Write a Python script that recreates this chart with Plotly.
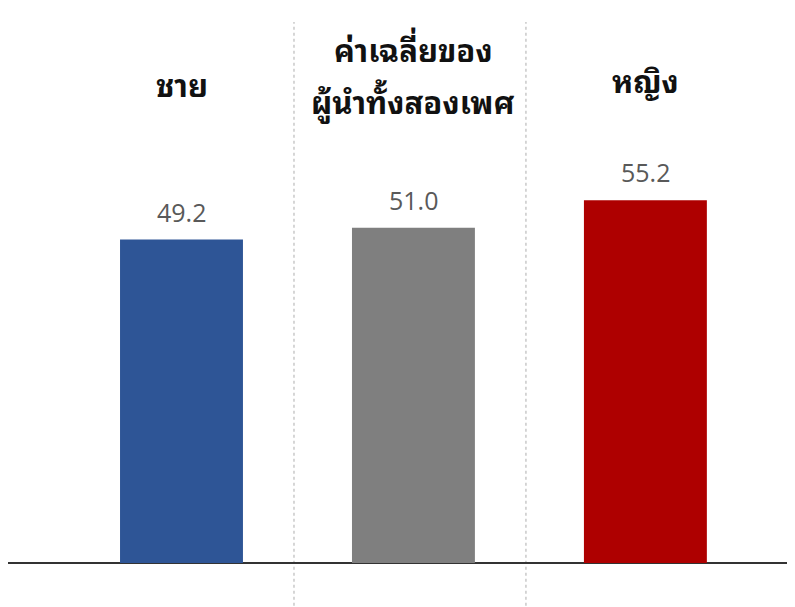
import plotly.graph_objects as go

categories = ["ชาย", "ค่าเฉลี่ยของ ผู้นำทั้งสองเพศ", "หญิง"]
label_lines = [["ชาย"], ["ค่าเฉลี่ยของ", "ผู้นำทั้งสองเพศ"], ["หญิง"]]
values = [49.2, 51.0, 55.2]
value_text = ["49.2", "51.0", "55.2"]
colors = ["#2E5596", "#7F7F7F", "#AE0000"]

x_idx = list(range(len(categories)))

fig = go.Figure()
fig.add_trace(go.Bar(
    x=x_idx, y=values,
    marker=dict(color=colors, line=dict(width=0)),
    width=0.53,
    hoverinfo="skip",
))

thai_font = ("Noto Sans Thai Looped, Noto Serif Thai, Noto Sans Thai, Loma, Garuda, "
             "Tahoma, DejaVu Sans, sans-serif")

annotations = []
for i, v in enumerate(values):
    annotations.append(dict(
        x=i, y=v, xref="x", yref="y", text=value_text[i],
        showarrow=False, yanchor="middle", yshift=28,
        font=dict(family="Open Sans, Noto Sans, sans-serif", size=25, color="#595959"),
    ))

# category labels at top
label_pos = {0: [0.888], 1: [0.952, 0.856], 2: [0.895]}
for i, lines in enumerate(label_lines):
    for j, line in enumerate(lines):
        annotations.append(dict(
            x=i, y=label_pos[i][j], xref="x", yref="paper", text="<b>" + line + "</b>",
            showarrow=False, yanchor="middle",
            font=dict(family=thai_font, size=31, color="#111111"),
        ))

shapes = []
for i in range(len(categories) - 1):
    shapes.append(dict(
        type="line", xref="x", yref="paper",
        x0=i + 0.485, x1=i + 0.485, y0=-0.09, y1=1.0,
        line=dict(color="#BBBBBB", width=1.2, dash="dot"),
        layer="below",
    ))

fig.update_layout(
    width=795, height=607,
    margin=dict(l=0, r=8, t=14, b=52),
    paper_bgcolor="white", plot_bgcolor="white",
    showlegend=False,
    xaxis=dict(range=[-0.748, 2.645], showticklabels=False, showgrid=False,
               zeroline=False, showline=False, ticks=""),
    yaxis=dict(range=[0, 82.3], showticklabels=False, showgrid=False,
               zeroline=True, zerolinecolor="#333333", zerolinewidth=2,
               showline=False, ticks=""),
    annotations=annotations,
    shapes=shapes,
)

fig.write_html("out.html")
